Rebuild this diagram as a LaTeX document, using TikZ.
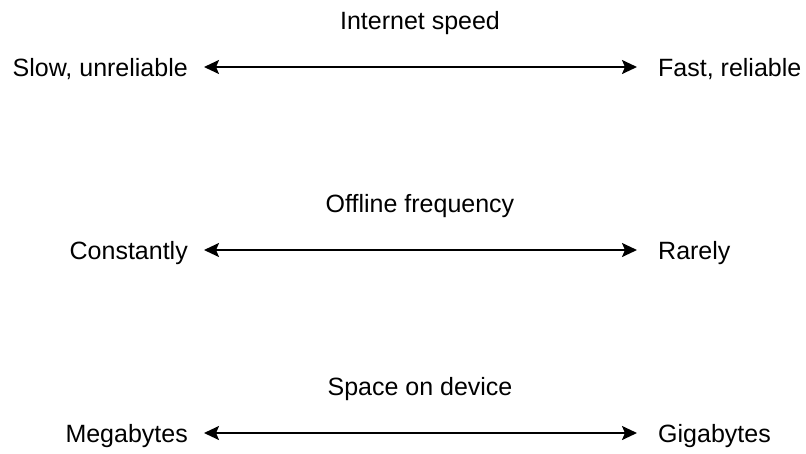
\documentclass[tikz,border=0pt]{standalone}
\usepackage{fontspec}
\setmainfont{Liberation Sans}
\usetikzlibrary{arrows.meta}
\begin{document}
\begin{tikzpicture}[x=1pt, y=-1pt,
        lbl/.style={inner sep=0pt, text height=18pt, text depth=0pt, font=\fontsize{25}{30}\selectfont},
        scalearrow/.style={{Stealth[length=15pt,width=14pt,inset=3pt]}-{Stealth[length=15pt,width=14pt,inset=3pt]}, line width=2pt, shorten <=16pt, shorten >=21pt}]
            \useasboundingbox (0,0) rectangle (806,453);

            \node[lbl] (t1) at (420,20) {Internet speed};
            \node[lbl, anchor=east] (l1) at (188,67) {Slow, unreliable};
            \node[lbl, anchor=west] (r1) at (658,67) {Fast, reliable};

            \node[lbl] (t2) at (420,203) {Offline frequency};
            \node[lbl, anchor=east] (l2) at (188,250) {Constantly};
            \node[lbl, anchor=west] (r2) at (658,250) {Rarely};

            \node[lbl] (t3) at (420,386) {Space on device};
            \node[lbl, anchor=east] (l3) at (188,433) {Megabytes};
            \node[lbl, anchor=west] (r3) at (658,433) {Gigabytes};

            \draw[scalearrow] (l1) -- (r1);
            \draw[scalearrow] (l2) -- (r2);
            \draw[scalearrow] (l3) -- (r3);
        \end{tikzpicture}
\end{document}
